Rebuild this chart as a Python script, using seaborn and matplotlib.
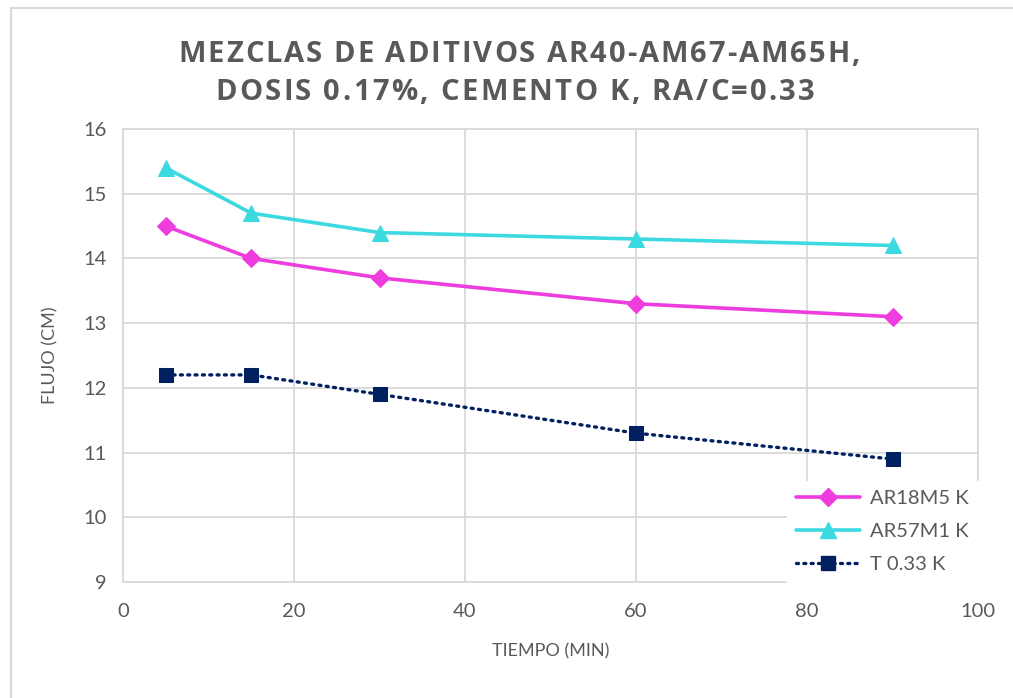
import matplotlib
matplotlib.use("Agg")
import matplotlib.pyplot as plt
import seaborn as sns
import pandas as pd
from matplotlib.patches import Rectangle
from matplotlib.lines import Line2D
from matplotlib.font_manager import FontProperties

# Flow measurements over time for each additive mix
tiempo = [5, 15, 30, 60, 90]
ar18m5 = [14.5, 14.0, 13.7, 13.3, 13.1]
ar57m1 = [15.4, 14.7, 14.4, 14.3, 14.2]
t033 = [12.2, 12.2, 11.9, 11.3, 10.9]
series_names = ["AR18M5 K", "AR57M1 K", "T 0.33 K"]
x_ticks = [0, 20, 40, 60, 80, 100]
y_ticks = [9, 10, 11, 12, 13, 14, 15, 16]
title_lines = ["MEZCLAS DE ADITIVOS AR40-AM67-AM65H,", "DOSIS 0.17%, CEMENTO K, RA/C=0.33"]

df = pd.DataFrame({
    "tiempo": tiempo * 3,
    "flujo": ar18m5 + ar57m1 + t033,
    "serie": [series_names[0]] * 5 + [series_names[1]] * 5 + [series_names[2]] * 5,
})

sns.set_theme(style="white")
plt.rcParams["font.family"] = ["Lato", "DejaVu Sans"]

W, H = 1013, 698
GRAY = "#595959"
GRID = "#d9d9d9"
colors = {series_names[0]: "#EE3CDF", series_names[1]: "#3DD9E1", series_names[2]: "#002060"}
markers = {series_names[0]: "D", series_names[1]: "^", series_names[2]: "s"}
msizes = {series_names[0]: 9, series_names[1]: 11, series_names[2]: 10}


def line_kw(name):
    dotted = name == series_names[2]
    return dict(color=colors[name], linewidth=2.4 if dotted else 2.6,
                linestyle=(0, (0.6, 1.6)) if dotted else "-",
                marker=markers[name], markersize=msizes[name],
                markeredgecolor=colors[name], dash_capstyle="round")


fig = plt.figure(figsize=(W / 100, H / 100), dpi=100)
ax = fig.add_axes([123 / W, 1 - 582 / H, (978 - 123) / W, (582 - 129) / H])

for name in series_names:
    sub = df[df["serie"] == name]
    sns.lineplot(data=sub, x="tiempo", y="flujo", ax=ax, legend=False, zorder=3,
                 **line_kw(name))

ax.set_xlim(0, 100)
ax.set_ylim(9, 16)
ax.set_xticks(x_ticks)
ax.set_yticks(y_ticks)
ax.grid(True, color=GRID, linewidth=1.3)
ax.set_axisbelow(True)
for sp in ax.spines.values():
    sp.set_color(GRID)
    sp.set_linewidth(1.3)
ax.tick_params(axis="both", length=0, labelsize=14.5, labelcolor=GRAY)
ax.tick_params(axis="x", pad=15)
ax.tick_params(axis="y", pad=12)
ax.set_xlabel("TIEMPO (MIN)", fontsize=13, color=GRAY, labelpad=17)
ax.set_ylabel("FLUJO (CM)", fontsize=13, color=GRAY, labelpad=18)

# Letter-spaced bold title, each line centred on the chart
renderer = fig.canvas.get_renderer()
tprop = FontProperties(family=["Open Sans", "DejaVu Sans"], weight="bold", size=21)


def text_w(s):
    return renderer.get_text_width_height_descent(s, tprop, ismath=False)[0]


def tracked_line(text, center_x, baseline_y, total_w):
    bar = text_w("|")
    natural = text_w(text)
    track = (total_w - natural) / (len(text) - 1)
    left = center_x - total_w / 2
    for i, ch in enumerate(text):
        if ch == " ":
            continue
        x = left + text_w(text[:i] + "|") - bar + i * track
        fig.text(x / W, 1 - baseline_y / H, ch, fontproperties=tprop, color=GRAY,
                 ha="left", va="baseline")


tracked_line(title_lines[0], 519, 62, 682)
tracked_line(title_lines[1], 515, 100, 600)

# Legend box in the lower right corner of the plot area
handles = [Line2D([0], [0], **line_kw(name)) for name in series_names]
leg = ax.legend(handles, series_names, loc="lower right",
                bbox_to_anchor=(1.0, 0.0), frameon=True, fancybox=False,
                fontsize=14.5, labelcolor=GRAY, handlelength=3.2,
                borderpad=0.45, labelspacing=0.78, handletextpad=0.5, borderaxespad=0.0)
leg.get_frame().set_facecolor("white")
leg.get_frame().set_edgecolor("white")
leg.get_frame().set_alpha(1.0)

# Chart area border
fig.patches.append(Rectangle((11 / W, -0.05), 1.1, 1 - 8 / H + 0.05,
                             transform=fig.transFigure, fill=False,
                             edgecolor="#d9d9d9", linewidth=1.5))

fig.savefig("out.png", dpi=100, facecolor="white")
